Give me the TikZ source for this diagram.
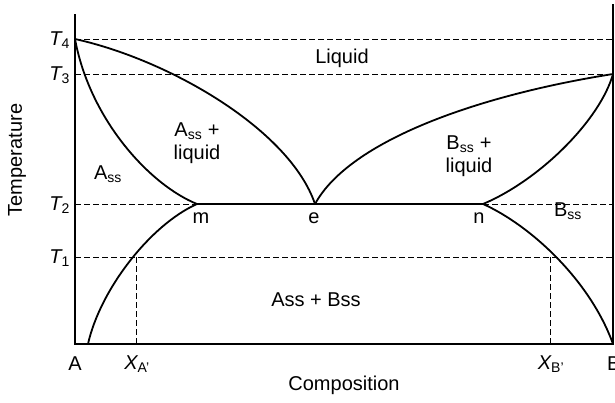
\documentclass[tikz,border=0pt]{standalone}
\usepackage{fontspec}
\setmainfont{Liberation Sans}
\newcommand{\sub}[1]{\textsubscript{#1}}
\begin{document}
\begin{tikzpicture}[x=1pt,y=-1pt,
  curve/.style={line width=1.8pt},
  axis/.style={line width=1.3pt},
  guide/.style={line width=0.8pt,dash pattern=on 6pt off 3pt},
  lbl/.style={font=\fontsize{20}{23}\selectfont,inner sep=0pt,align=center},
  tlbl/.style={font=\fontsize{20}{23}\selectfont\itshape,inner sep=0pt,anchor=east}]
\useasboundingbox (0,0) rectangle (615,402);
% key points
\coordinate (T4) at (75,39);
\coordinate (T3r) at (613,74);
\coordinate (m) at (197,204);
\coordinate (e) at (315,204);
\coordinate (n) at (483,204);
\coordinate (A0) at (75,344);
\coordinate (B0) at (613,344);
\coordinate (sa) at (88,344);
\coordinate (xa) at (136,257);
\coordinate (xb) at (550,257);
% axes
\draw[axis] (75,14) -- (A0) -- (B0) -- (613,4);
% dashed guides
\draw[guide] (T4) -- (613,39);
\draw[guide] (75,74) -- (T3r);
\draw[guide] (75,204) -- (m);
\draw[guide] (n) -- (613,204);
\draw[guide] (75,257) -- (613,257);
\draw[guide] (xa) -- (136,344);
\draw[guide] (xb) -- (550,344);
% curves
\draw[curve] (T4) .. controls (170,60) and (290,130) .. (e);
\draw[curve] (T4) .. controls (90,120) and (150,185) .. (m);
\draw[curve] (m) .. controls (150,225) and (100,290) .. (sa);
\draw[curve] (m) -- (n);
\draw[curve] (e) .. controls (350,140) and (480,95) .. (T3r);
\draw[curve] (n) .. controls (540,180) and (600,120) .. (T3r);
\draw[curve] (n) .. controls (530,225) and (590,280) .. (B0);
% temperature labels
\node[tlbl] (t4) at (70,40) {T\sub{\upshape 4}};
\node[tlbl] (t3) at (70,75) {T\sub{\upshape 3}};
\node[tlbl] (t2) at (70,205) {T\sub{\upshape 2}};
\node[tlbl] (t1) at (70,258) {T\sub{\upshape 1}};
\node[lbl,rotate=90] (temp) at (17,160) {Temperature};
% composition labels
\node[lbl] (la) at (75,364) {A};
\node[lbl] (lxa) at (137,364) {\itshape X\sub{\upshape A'}};
\node[lbl] (lxb) at (551,364) {\itshape X\sub{\upshape B'}};
\node[lbl,anchor=west] (lb) at (607,364) {B};
\node[lbl] (comp) at (344,385) {Composition};
% region labels
\node[lbl] (liq) at (342,58) {Liquid};
\node[lbl] (asl) at (197,143) {A\sub{ss} +\\liquid};
\node[lbl] (ass) at (108,174) {A\sub{ss}};
\node[lbl] (bsl) at (469,156) {B\sub{ss} +\\liquid};
\node[lbl] (bss) at (568,211) {B\sub{ss}};
\node[lbl] (lm) at (201,218) {m};
\node[lbl] (le) at (314,218) {e};
\node[lbl] (ln) at (479,218) {n};
\node[lbl] (ab) at (316,300) {Ass + Bss};
\end{tikzpicture}
\end{document}
